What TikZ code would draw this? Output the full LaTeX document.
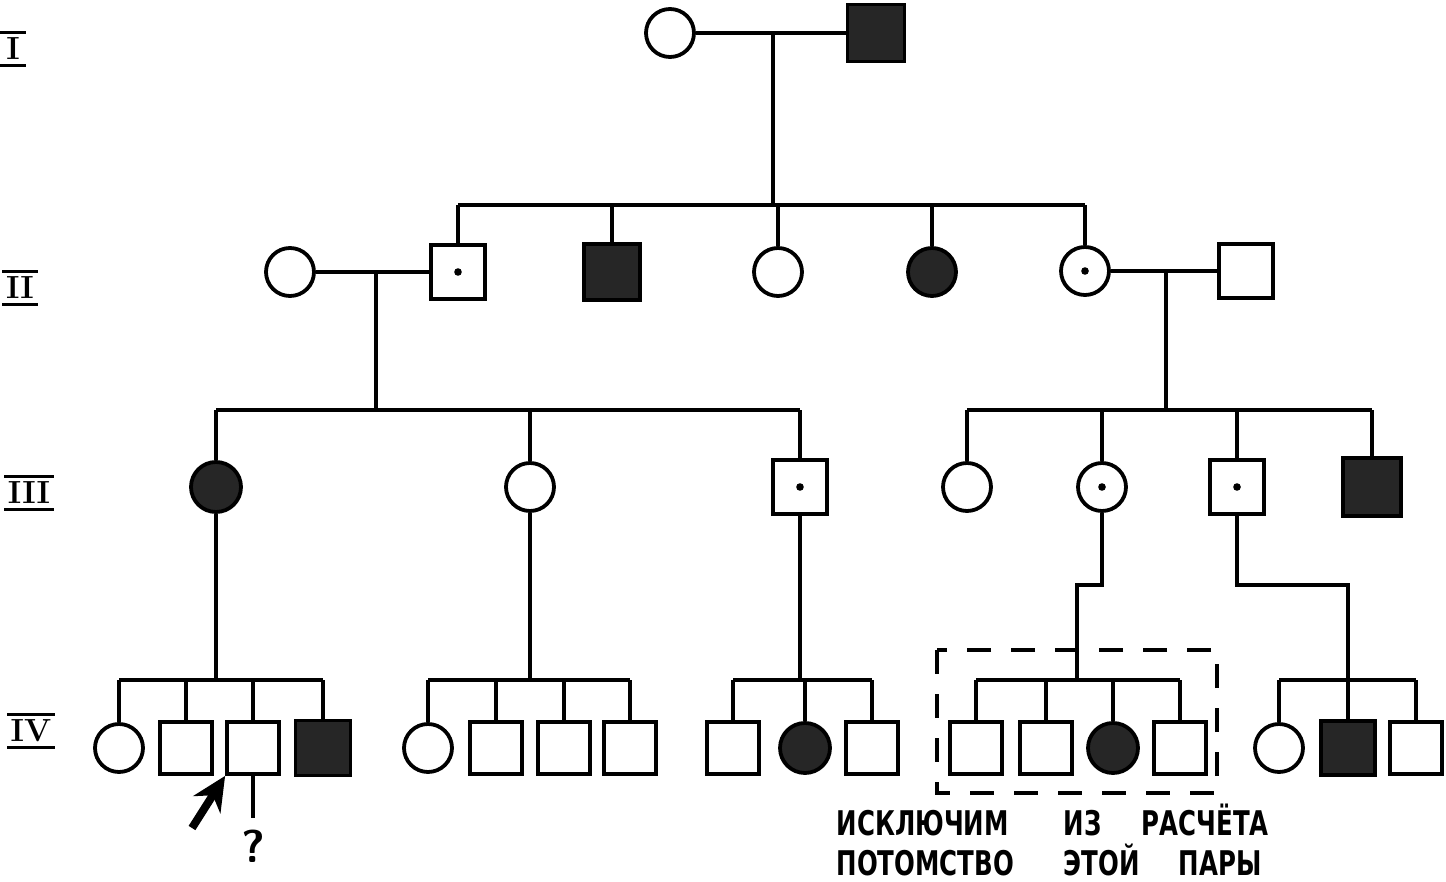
\documentclass[tikz,border=0pt]{standalone}
\usepackage{fontspec}
\usetikzlibrary{arrows.meta}
\newfontfamily\notefont[FakeStretch=0.72]{DejaVu Sans}

\begin{document}
\begin{tikzpicture}[x=1pt,y=-1pt,line width=3.3pt,
female/.style={circle,draw,line width=3.8pt,minimum size=48pt,inner sep=0pt},
male/.style={rectangle,draw,line width=3.8pt,minimum size=54pt,inner sep=0pt},
affected/.style={fill=black!85},
carrier/.style={path picture={\fill[black] (path picture bounding box.center) circle (3.8pt);}},
gen/.style={font=\bfseries\fontsize{32}{36}\selectfont,inner xsep=2pt,inner ysep=4pt},
note/.style={font=\notefont\bfseries\fontsize{34}{40}\selectfont,anchor=base west,inner sep=0pt},
excluded/.style={line width=3.5pt,dash pattern=on 24pt off 20pt},
proband/.style={line width=8pt,-{Stealth[length=34pt,width=32pt]}}]

\useasboundingbox (0,0) rectangle (1446,882);

% generation labels
\node[gen,minimum width=22pt] (gI) at (13,49) {I};
\node[gen,minimum width=26pt] (gII) at (20,288) {II};
\node[gen,minimum width=33pt] (gIII) at (29,493) {III};
\node[gen,minimum width=33pt] (gIV) at (31,731) {IV};
\foreach \g in {gI,gII,gIII,gIV}
  \draw[line width=2.6pt] (\g.north west) -- (\g.north east)
    (\g.south west) -- (\g.south east);

% generation I
\node[female] (i1) at (670,33) {};
\node[male,affected,minimum size=57pt] (i2) at (876,33) {};
\coordinate (ci) at (773,33);
\coordinate (si) at (773,205);
\draw (i1) -- (i2);
\draw (ci) -- (si);

% generation II
\node[female] (ii1) at (290,272) {};
\node[male,carrier] (ii2) at (458,272) {};
\node[male,affected,minimum size=56pt] (ii3) at (612,272) {};
\node[female] (ii4) at (778,272) {};
\node[female,affected] (ii5) at (932,272) {};
\node[female,carrier] (ii6) at (1085,271) {};
\node[male] (ii7) at (1246,271) {};

\draw (ii2 |- si) -- (ii6 |- si);
\foreach \k in {ii2,ii3,ii4,ii5,ii6}
  \draw (\k) -- (\k |- si);

\coordinate (cii) at (376,272);
\coordinate (sii) at (376,410);
\draw (ii1) -- (ii2);
\draw (cii) -- (sii);

\coordinate (ciii) at (1166,271);
\coordinate (siii) at (1166,410);
\draw (ii6) -- (ii7);
\draw (ciii) -- (siii);

% generation III
\node[female,affected,minimum size=50pt] (iii1) at (216,487) {};
\node[female] (iii2) at (530,487) {};
\node[male,carrier] (iii3) at (800,487) {};
\node[female] (iii4) at (967,487) {};
\node[female,carrier] (iii5) at (1102,487) {};
\node[male,carrier] (iii6) at (1237,487) {};
\node[male,affected,minimum size=58pt] (iii7) at (1372,487) {};

\draw (iii1 |- sii) -- (iii3 |- sii);
\foreach \k in {iii1,iii2,iii3}
  \draw (\k) -- (\k |- sii);
\draw (iii4 |- siii) -- (iii7 |- siii);
\foreach \k in {iii4,iii5,iii6,iii7}
  \draw (\k) -- (\k |- siii);

% generation IV
\node[female] (iv1) at (119,748) {};
\node[male,minimum size=52pt] (iv2) at (186,748) {};
\node[male,minimum size=52pt] (iv3) at (253,748) {};
\node[male,affected,minimum size=55pt] (iv4) at (323,748) {};
\node[female] (iv5) at (428,748) {};
\node[male,minimum size=52pt] (iv6) at (496,748) {};
\node[male,minimum size=52pt] (iv7) at (564,748) {};
\node[male,minimum size=52pt] (iv8) at (630,748) {};
\node[male,minimum size=52pt] (iv9) at (733,748) {};
\node[female,affected,minimum size=50pt] (iv10) at (805,748) {};
\node[male,minimum size=52pt] (iv11) at (872,748) {};
\node[male,minimum size=52pt] (iv12) at (976,748) {};
\node[male,minimum size=52pt] (iv13) at (1046,748) {};
\node[female,affected,minimum size=50pt] (iv14) at (1113,748) {};
\node[male,minimum size=52pt] (iv15) at (1180,748) {};
\node[female] (iv16) at (1279,748) {};
\node[male,affected,minimum size=54pt] (iv17) at (1348,748) {};
\node[male,minimum size=52pt] (iv18) at (1416,748) {};

\coordinate (s4a) at (216,680);
\coordinate (s4b) at (530,680);
\coordinate (s4c) at (800,680);
\coordinate (k1) at (1102,585);
\coordinate (s4d) at (1077,680);
\coordinate (k2) at (1237,585);
\coordinate (s4e) at (1348,680);

\draw (iii1) -- (s4a);
\draw (iii2) -- (s4b);
\draw (iii3) -- (s4c);
\draw (iii5) -- (k1) -| (s4d);
\draw (iii6) -- (k2) -| (s4e);

\draw (iv1 |- s4a) -- (iv4 |- s4a);
\foreach \k in {iv1,iv2,iv3,iv4}
  \draw (\k) -- (\k |- s4a);
\draw (iv5 |- s4b) -- (iv8 |- s4b);
\foreach \k in {iv5,iv6,iv7,iv8}
  \draw (\k) -- (\k |- s4b);
\draw (iv9 |- s4c) -- (iv11 |- s4c);
\foreach \k in {iv9,iv10,iv11}
  \draw (\k) -- (\k |- s4c);
\draw (iv12 |- s4d) -- (iv15 |- s4d);
\foreach \k in {iv12,iv13,iv14,iv15}
  \draw (\k) -- (\k |- s4d);
\draw (iv16 |- s4e) -- (iv18 |- s4e);
\foreach \k in {iv16,iv17,iv18}
  \draw (\k) -- (\k |- s4e);

% proband and the question
\coordinate (pa) at (192,828);
\draw[proband] (pa) -- (iv3.south west);
\coordinate (q) at (253,818);
\draw (iv3) -- (q);
\node[font=\sffamily\bfseries\fontsize{46}{50}\selectfont,inner sep=0pt] (qm) at (253,846) {?};

% excluded sibship
\draw[excluded] (937,650) rectangle (1217,793);
\node[note] (n1) at (835,835) {ИСКЛЮЧИМ};
\node[note] (n2) at (1062,835) {ИЗ};
\node[note] (n3) at (1140,835) {РАСЧЁТА};
\node[note] (n4) at (835,875) {ПОТОМСТВО};
\node[note] (n5) at (1062,875) {ЭТОЙ};
\node[note] (n6) at (1177,875) {ПАРЫ};

\end{tikzpicture}
\end{document}
